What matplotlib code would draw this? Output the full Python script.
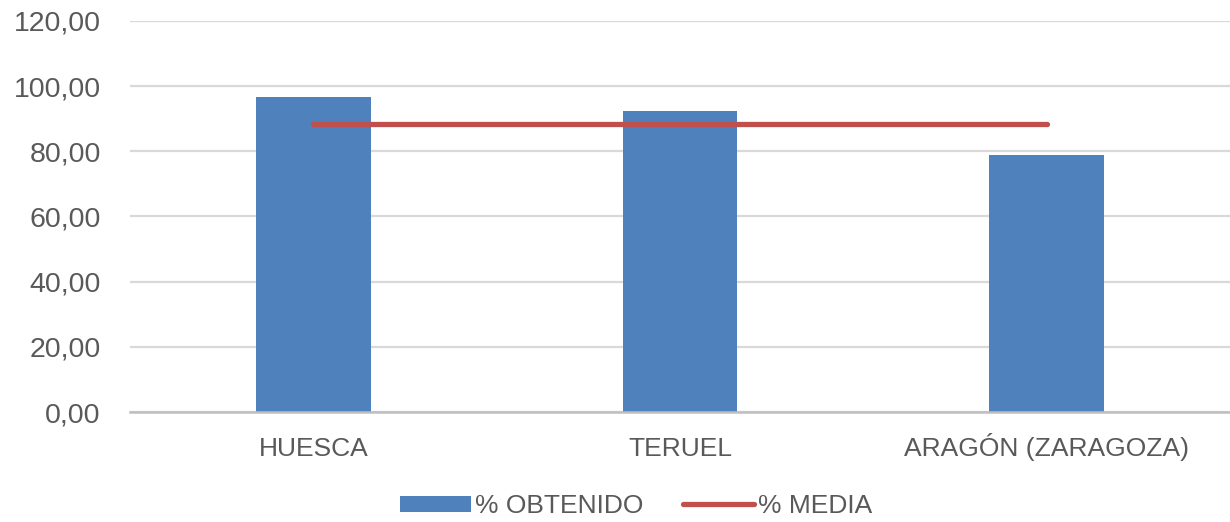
import matplotlib.pyplot as plt
from matplotlib.ticker import FuncFormatter

# datos
provincias = ['HUESCA', 'TERUEL', 'ARAGÓN (ZARAGOZA)']
pct_obtenido = [96.6, 92.3, 78.8]
pct_media = [88.3, 88.3, 88.3]

azul = '#4F81BD'
rojo = '#C0504D'
gris_texto = '#595959'
gris_rejilla = '#D9D9D9'

plt.rcParams['font.family'] = ['Liberation Sans', 'DejaVu Sans']

fig = plt.figure(figsize=(12.3, 5.22), dpi=100)
ax = fig.add_axes([0.1057, 0.2107, 0.8943, 0.7491])

x = range(len(provincias))
barras = ax.bar(x, pct_obtenido, width=0.313, color=azul, label='% OBTENIDO', zorder=2)
linea, = ax.plot(x, pct_media, color=rojo, linewidth=3.8, solid_capstyle='round',
                 label='% MEDIA', zorder=3)

ax.set_xlim(-0.5, 2.5)
ax.set_ylim(0, 120)
ax.set_yticks(range(0, 121, 20))
ax.yaxis.set_major_formatter(FuncFormatter(lambda v, p: f'{v:.2f}'.replace('.', ',')))
ax.set_xticks(list(x))
ax.set_xticklabels(provincias, va='baseline')

ax.grid(axis='y', color=gris_rejilla, linewidth=1.6, zorder=0)
for lado in ['top', 'right', 'left']:
    ax.spines[lado].set_visible(False)
ax.spines['bottom'].set_color('#BFBFBF')
ax.spines['bottom'].set_linewidth(1.8)
ax.spines['bottom'].set_zorder(4)

ax.tick_params(axis='both', length=0, labelsize=19, colors=gris_texto)
ax.tick_params(axis='x', pad=32)
ax.tick_params(axis='y', pad=21, labelsize=20.5)

fig.legend([barras, linea], ['% OBTENIDO', '% MEDIA'], loc='center',
           bbox_to_anchor=(0.517, 0.03), ncol=2, frameon=False,
           fontsize=19, labelcolor=gris_texto, handlelength=2.7, handleheight=0.6,
           handletextpad=0.15, columnspacing=1.5)

fig.savefig('out.png', dpi=100)
